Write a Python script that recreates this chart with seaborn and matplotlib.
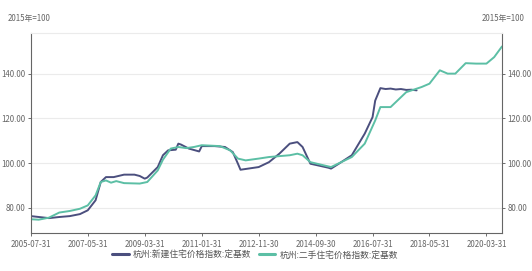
import pandas as pd
import numpy as np
import matplotlib
matplotlib.use('Agg')
import matplotlib.pyplot as plt
import matplotlib.dates as mdates
import seaborn as sns

# 杭州:新建住宅价格指数:定基数
new_months = ['2005-07', '2006-02', '2006-06', '2006-10', '2007-02', '2007-05', '2007-08',
              '2007-10', '2007-12', '2008-03', '2008-07', '2008-11', '2009-01', '2009-03',
              '2009-04', '2009-08', '2009-10', '2009-12', '2010-03', '2010-04', '2010-05',
              '2010-08', '2010-12', '2011-01', '2011-06', '2011-10', '2012-01', '2012-03',
              '2012-04', '2012-11', '2013-03', '2013-07', '2013-11', '2014-02', '2014-04',
              '2014-07', '2015-02', '2015-03', '2015-06', '2015-11', '2016-04', '2016-07',
              '2016-08', '2016-10', '2016-12', '2017-02', '2017-04', '2017-06', '2017-08',
              '2017-10', '2017-12']
new_values = [76.2, 75.3, 75.8, 76.2, 77.1, 78.8, 83.3,
              91.5, 93.7, 93.7, 94.8, 94.8, 94.2, 93.0,
              93.5, 98.2, 103.5, 105.7, 106.0, 108.7, 108.3,
              106.5, 105.2, 107.6, 107.6, 107.2, 104.9, 99.7,
              97.0, 98.2, 100.4, 104.2, 108.7, 109.4, 107.2,
              99.7, 97.9, 97.5, 99.7, 103.5, 113.2, 120.6,
              128.0, 133.6, 133.2, 133.4, 133.0, 133.2, 132.8,
              132.9, 132.6]

# 杭州:二手住宅价格指数:定基数
used_months = ['2005-07', '2005-10', '2006-02', '2006-06', '2006-10', '2007-02', '2007-05',
               '2007-08', '2007-10', '2007-12', '2008-02', '2008-04', '2008-07', '2009-01',
               '2009-04', '2009-08', '2009-10', '2010-01', '2010-04', '2010-07', '2010-10',
               '2011-01', '2011-08', '2011-12', '2012-03', '2012-06', '2012-11', '2013-03',
               '2013-11', '2014-02', '2014-04', '2014-07', '2015-03', '2015-11', '2016-04',
               '2016-08', '2016-10', '2017-02', '2017-08', '2018-02', '2018-05', '2018-09',
               '2018-12', '2019-03', '2019-07', '2019-11', '2020-03', '2020-06', '2020-09']
used_values = [74.8, 74.6, 75.5, 77.8, 78.5, 79.5, 81.0,
               85.5, 91.5, 92.2, 91.2, 91.9, 91.0, 90.8,
               91.5, 96.7, 101.5, 106.5, 107.2, 106.7, 107.2,
               108.0, 107.6, 105.7, 102.0, 101.2, 102.0, 102.7,
               103.5, 104.2, 103.5, 100.4, 98.2, 102.7, 108.7,
               119.1, 125.1, 125.1, 131.8, 134.1, 135.6, 141.6,
               140.1, 140.1, 144.8, 144.6, 144.6, 147.5, 152.3]

tick_dates = ['2005-07-31', '2007-05-31', '2009-03-31', '2011-01-31', '2012-11-30',
              '2014-09-30', '2016-07-31', '2018-05-31', '2020-03-31']
y_ticks = [80, 100, 120, 140]

new_label = '杭州:新建住宅价格指数:定基数'
used_label = '杭州:二手住宅价格指数:定基数'


def month_end(months):
    return pd.to_datetime(months) + pd.offsets.MonthEnd(0)


df_new = pd.DataFrame({'date': month_end(new_months), 'value': new_values})
df_used = pd.DataFrame({'date': month_end(used_months), 'value': used_values})

sns.set_style('white')
plt.rcParams['font.family'] = ['Noto Sans CJK SC', 'DejaVu Sans']

fig = plt.figure(figsize=(5.32, 2.71), dpi=100)
ax = fig.add_axes([0.058, 0.140, 0.8856, 0.738])

dark = '#4b4f7e'
teal = '#5cbfa5'
sns.lineplot(data=df_new, x='date', y='value', ax=ax, color=dark, linewidth=1.4, label=new_label)
sns.lineplot(data=df_used, x='date', y='value', ax=ax, color=teal, linewidth=1.4, label=used_label)

ax.set_xlim(pd.Timestamp('2005-07-31'), pd.Timestamp('2020-09-30'))
ax.set_ylim(68.6, 158.3)

ax.set_xticks(pd.to_datetime(tick_dates))
ax.xaxis.set_major_formatter(mdates.DateFormatter('%Y-%m-%d'))
ax.set_yticks(y_ticks)
ax.set_yticklabels([f'{v:.2f}' for v in y_ticks])
ax.tick_params(axis='y', left=True, right=True, labelleft=True, labelright=True,
               length=2.5, width=0.6, color='#555555', labelsize=5.7, labelcolor='#666666', pad=1.5)
ax.tick_params(axis='x', bottom=True, length=2.5, width=0.6, color='#555555',
               labelsize=5.7, labelcolor='#666666', pad=2.5)
ax.grid(axis='y', color='#ebebeb', linewidth=0.8)
ax.set_xlabel('')
ax.set_ylabel('')

for side in ['left', 'right', 'bottom']:
    ax.spines[side].set_color('#666666')
    ax.spines[side].set_linewidth(0.8)
ax.spines['top'].set_color('#ebebeb')
ax.spines['top'].set_linewidth(0.8)

fig.text(8 / 532, 1 - 19 / 271, '2015年=100', fontsize=5.7, color='#666666', va='center', ha='left')
fig.text(525 / 532, 1 - 19 / 271, '2015年=100', fontsize=5.7, color='#666666', va='center', ha='right')

ax.legend(loc='center', bbox_to_anchor=(255 / 532, 1 - 255 / 271), bbox_transform=fig.transFigure,
          ncol=2, frameon=False, fontsize=6.3, handlelength=1.9, columnspacing=0.8,
          labelcolor='#555555', handletextpad=0.5)
for line in ax.get_legend().get_lines():
    line.set_linewidth(2.2)

fig.savefig('out.png', dpi=100)
